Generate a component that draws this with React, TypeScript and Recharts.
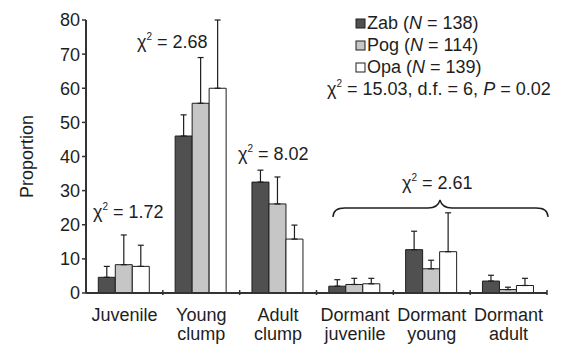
import React from 'react';
import { BarChart, Bar, XAxis, YAxis, ErrorBar, Label } from 'recharts';

const categoryTop = ['Juvenile', 'Young', 'Adult', 'Dormant', 'Dormant', 'Dormant'];
const categoryBottom = ['', 'clump', 'clump', 'juvenile', 'young', 'adult'];

// bar heights (%)
const zab = [4.6, 46, 32.5, 2.0, 12.7, 3.5];
const pog = [8.3, 55.6, 26.1, 2.5, 7.1, 1.0];
const opa = [7.8, 60, 15.8, 2.7, 12.1, 2.2];

// upper whisker ends
const zabTop = [7.8, 52.2, 36, 3.9, 18.1, 5.2];
const pogTop = [17, 69, 34, 4.3, 9.6, 1.7];
const opaTop = [14, 80, 19.9, 4.3, 23.5, 4.3];

const yTicks = [0, 10, 20, 30, 40, 50, 60, 70, 80];

const W = 573;
const H = 345;
const M = { top: 20, right: 26, left: 0, bottom: 0 };
const Y_W = 86;
const BAND = (W - M.left - M.right - Y_W) / categoryTop.length;

const FONT = '"Liberation Sans", Arial, Helvetica, sans-serif';
const INK = '#1e1e1e';

const data = categoryTop.map((c, i) => ({
  name: c,
  zab: zab[i],
  pog: pog[i],
  opa: opa[i],
  zabErr: [0, zabTop[i] - zab[i]],
  pogErr: [0, pogTop[i] - pog[i]],
  opaErr: [0, opaTop[i] - opa[i]],
}));

const CatTick = (props: any) => {
  const { x, y, payload, index } = props;
  const i = index ?? payload.index;
  return (
    <g>
      <line x1={x + BAND / 2} y1={y} x2={x + BAND / 2} y2={y - 5} stroke="#333" strokeWidth={1.5} />
      <text x={x} y={y + 26} textAnchor="middle" fontSize={18} fill={INK} fontFamily={FONT}>
        {categoryTop[i]}
      </text>
      <text x={x} y={y + 45} textAnchor="middle" fontSize={18} fill={INK} fontFamily={FONT}>
        {categoryBottom[i]}
      </text>
    </g>
  );
};

const Chi = ({ x, y, value }: { x: number; y: number; value: string }) => (
  <text x={x} y={y} fontSize={18} fill={INK} fontFamily={FONT}>
    <tspan>χ</tspan>
    <tspan dy={-8} fontSize={10}>2</tspan>
    <tspan dy={8}>{' = ' + value}</tspan>
  </text>
);

const legendItems = [
  { name: 'Zab', n: 138, fill: '#505050' },
  { name: 'Pog', n: 114, fill: '#c6c6c6' },
  { name: 'Opa', n: 139, fill: '#ffffff' },
];

export default function App() {
  return (
    <div style={{ position: 'relative', width: W, height: H }}>
      <style>{`body{margin:0}`}</style>
      <BarChart
        width={W}
        height={H}
        data={data}
        margin={M}
        barCategoryGap="16%"
        barGap={0}
      >
        <XAxis
          dataKey="name"
          height={52}
          tickLine={false}
          tickSize={0}
          tick={<CatTick />}
          interval={0}
          axisLine={{ stroke: '#333', strokeWidth: 2 }}
        />
        <YAxis
          width={Y_W}
          domain={[0, 80]}
          ticks={yTicks}
          interval={0}
          tickSize={4}
          tickMargin={2}
          tick={{ fontSize: 18, fill: INK, fontFamily: FONT }}
          tickLine={{ stroke: '#333', strokeWidth: 1.5 }}
          axisLine={{ stroke: '#333', strokeWidth: 2 }}
        >
          <Label
            value="Proportion"
            angle={-90}
            position="insideLeft"
            offset={27}
            style={{ fontSize: 18, fill: INK, fontFamily: FONT, textAnchor: 'middle' }}
          />
        </YAxis>
        <Bar dataKey="zab" fill="#505050" stroke={INK} strokeWidth={1} isAnimationActive={false}>
          <ErrorBar dataKey="zabErr" direction="y" width={3} stroke={INK} strokeWidth={1.2} />
        </Bar>
        <Bar dataKey="pog" fill="#c6c6c6" stroke={INK} strokeWidth={1} isAnimationActive={false}>
          <ErrorBar dataKey="pogErr" direction="y" width={3} stroke={INK} strokeWidth={1.2} />
        </Bar>
        <Bar dataKey="opa" fill="#ffffff" stroke={INK} strokeWidth={1} isAnimationActive={false}>
          <ErrorBar dataKey="opaErr" direction="y" width={3} stroke={INK} strokeWidth={1.2} />
        </Bar>
      </BarChart>
      <svg width={W} height={H} style={{ position: 'absolute', left: 0, top: 0, pointerEvents: 'none' }}>
        {legendItems.map((it, i) => (
          <g key={it.name}>
            <rect x={356} y={29 + i * 22 - 10} width={9} height={9} fill={it.fill} stroke={INK} strokeWidth={1} />
            <text x={367} y={29 + i * 22} fontSize={18} fill={INK} fontFamily={FONT}>
              {it.name + ' ('}
              <tspan fontStyle="italic">N</tspan>
              {' = ' + it.n + ')'}
            </text>
          </g>
        ))}
        <text x={327} y={95} fontSize={18} fill={INK} fontFamily={FONT}>
          <tspan>χ</tspan>
          <tspan dy={-8} fontSize={10}>2</tspan>
          <tspan dy={8}>{' = 15.03, d.f. = 6, '}</tspan>
          <tspan fontStyle="italic">P</tspan>
          <tspan>{' = 0.02'}</tspan>
        </text>
        <Chi x={137} y={48} value="2.68" />
        <Chi x={93} y={218} value="1.72" />
        <Chi x={238} y={160} value="8.02" />
        <Chi x={402} y={189} value="2.61" />
        <path
          d="M333,217 Q333,208 345,208 L428,208 Q438,208 440,200 Q442,208 452,208 L536,208 Q548,208 548,217"
          fill="none"
          stroke={INK}
          strokeWidth={1.4}
        />
      </svg>
    </div>
  );
}
